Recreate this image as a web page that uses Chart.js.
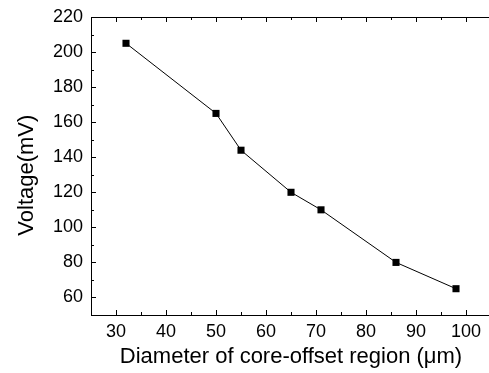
<!DOCTYPE html>
<html>
<head>
<meta charset="utf-8">
<script src="https://cdn.jsdelivr.net/npm/chart.js@4"></script>
<style>
  html, body { margin: 0; padding: 0; background: #fff; overflow: hidden; }
  #wrap { width: 491px; height: 373px; }
</style>
</head>
<body>
<div id="wrap"><canvas id="chart" width="491" height="373"></canvas></div>
<script>
// ---- data ----
const diameters = [32, 50, 55, 65, 71, 86, 98];       // µm
const voltages  = [205, 165, 144, 120, 110, 80, 65];   // mV

const xTitle = 'Diameter of core-offset region (\u03bcm)';
// trailing spaces nudge the centred vertical title down, as in the original
const yTitle = 'Voltage(mV)\u00a0\u00a0\u00a0';

// inward major/minor tick marks, drawn from each scale's own ticks
const innerTicks = {
  id: 'innerTicks',
  afterDraw(chart) {
    const { ctx, chartArea: a, scales: { x, y } } = chart;
    ctx.save();
    ctx.strokeStyle = '#000';
    ctx.lineWidth = 1;
    ctx.beginPath();
    // top frame line
    ctx.moveTo(a.left, a.top + 0.5);
    ctx.lineTo(a.right, a.top + 0.5);
    x.ticks.forEach(t => {
      const px = Math.round(x.getPixelForValue(t.value)) + 0.5;
      const len = t.value % 10 === 0 ? 5 : 3;
      ctx.moveTo(px, a.bottom);
      ctx.lineTo(px, a.bottom - len);
      ctx.moveTo(px, a.top);
      ctx.lineTo(px, a.top + len);
    });
    y.ticks.forEach(t => {
      const py = Math.round(y.getPixelForValue(t.value)) + 0.5;
      const len = t.value % 20 === 0 ? 5 : 3;
      ctx.moveTo(a.left, py);
      ctx.lineTo(a.left + len, py);
    });
    ctx.stroke();
    ctx.restore();
  }
};

const font = 'Liberation Sans, Arial, Helvetica, sans-serif';

new Chart(document.getElementById('chart'), {
  type: 'line',
  data: {
    datasets: [{
      data: diameters.map((d, i) => ({ x: d, y: voltages[i] })),
      borderColor: '#000',
      borderWidth: 1,
      backgroundColor: '#000',
      pointStyle: 'rect',
      pointRadius: 5,
      pointBorderWidth: 0,
      tension: 0,
    }],
  },
  options: {
    responsive: false,
    animation: false,
    layout: { autoPadding: false, padding: { top: 17, right: 0, left: 0, bottom: 0 } },
    plugins: { legend: { display: false }, tooltip: { enabled: false } },
    scales: {
      x: {
        type: 'linear',
        min: 25,
        max: 105,
        grid: { display: false, drawTicks: false },
        border: { display: true, color: '#000', width: 1 },
        ticks: {
          stepSize: 5,
          autoSkip: false,
          maxRotation: 0,
          padding: 6,
          color: '#000',
          font: { family: font, size: 18 },
          callback: v => (v % 10 === 0 ? v : ''),
        },
        title: {
          display: true,
          text: xTitle,
          color: '#000',
          font: { family: font, size: 22 },
          padding: { top: 0, bottom: 3 },
        },
        afterFit: s => { s.height = 58; s.paddingLeft = 0; s.paddingRight = 0; },
      },
      y: {
        min: 50,
        max: 220,
        grid: { display: false, drawTicks: false },
        border: { display: true, color: '#000', width: 1 },
        ticks: {
          stepSize: 10,
          autoSkip: false,
          padding: 8,
          color: '#000',
          font: { family: font, size: 18 },
          callback: v => (v % 20 === 0 ? v : ''),
        },
        title: {
          display: true,
          text: yTitle,
          color: '#000',
          font: { family: font, size: 22 },
          padding: { top: 14, bottom: 0 },
        },
        afterFit: s => { s.width = 91; s.paddingTop = 0; s.paddingBottom = 0; },
      },
    },
  },
  plugins: [innerTicks],
});
</script>
</body>
</html>
